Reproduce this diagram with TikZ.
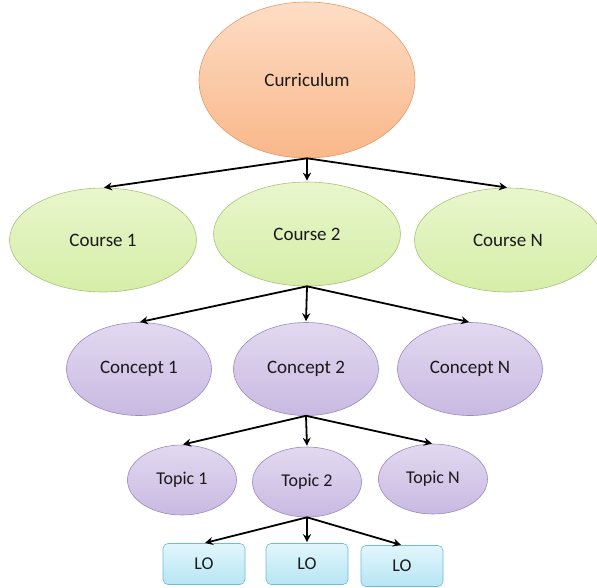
\documentclass[tikz,border=0pt]{standalone}
\usepackage{fontspec}
\setmainfont{Carlito}
\usetikzlibrary{shapes.geometric,arrows.meta}

\definecolor{orTop}{HTML}{FDDDC5}
\definecolor{orBot}{HTML}{F9B789}
\definecolor{orLine}{HTML}{E09A68}
\definecolor{grTop}{HTML}{E9F6CC}
\definecolor{grBot}{HTML}{D5EEA8}
\definecolor{grLine}{HTML}{A9C27A}
\definecolor{puTop}{HTML}{E2D9F0}
\definecolor{puBot}{HTML}{C9B9E2}
\definecolor{puLine}{HTML}{9B8AC0}
\definecolor{blTop}{HTML}{E2F6FC}
\definecolor{blBot}{HTML}{B6E5F4}
\definecolor{blLine}{HTML}{6FBCD4}
\definecolor{txt}{HTML}{1A1A1A}

\tikzset{
  oval/.style={ellipse, inner sep=0pt, line width=0.6pt, text=txt},
  rootnode/.style={oval, draw=orLine, top color=orTop, bottom color=orBot,
    minimum width=216pt, minimum height=156pt, font=\fontsize{19}{22}\selectfont},
  coursenode/.style={oval, draw=grLine, top color=grTop, bottom color=grBot,
    minimum width=187pt, minimum height=104pt, font=\fontsize{19}{22}\selectfont},
  conceptnode/.style={oval, draw=puLine, top color=puTop, bottom color=puBot,
    minimum width=145pt, minimum height=93pt, font=\fontsize{19}{22}\selectfont},
  topicnode/.style={oval, draw=puLine, top color=puTop, bottom color=puBot,
    minimum width=109pt, minimum height=70pt, font=\fontsize{18}{21}\selectfont},
  lonode/.style={rectangle, rounded corners=5pt, draw=blLine, line width=0.6pt,
    top color=blTop, bottom color=blBot, text=txt,
    minimum width=82pt, minimum height=41pt, inner sep=0pt,
    font=\fontsize{18}{21}\selectfont},
  link/.style={-{Stealth[length=8pt,width=8pt]}, line width=1.8pt, black, shorten >=1pt}
}

\begin{document}
\begin{tikzpicture}[x=1pt, y=-1pt]
  \useasboundingbox (0,0) rectangle (597,587);

  % level 0
  \node[rootnode] (cur) at (307,80) {Curriculum};

  % level 1: courses
  \node[coursenode] (c1) at (103,240) {Course 1};
  \node[coursenode] (c2) at (307,234) {Course 2};
  \node[coursenode] (cN) at (508,240) {Course N};

  % level 2: concepts
  \node[conceptnode] (k1) at (139,369) {Concept 1};
  \node[conceptnode] (k2) at (306,369) {Concept 2};
  \node[conceptnode] (kN) at (470,369) {Concept N};

  % level 3: topics
  \node[topicnode] (t1) at (182,480) {Topic 1};
  \node[topicnode] (t2) at (307,482) {Topic 2};
  \node[topicnode] (tN) at (433,479) {Topic N};

  % level 4: learning objects
  \node[lonode] (l1) at (204,564) {LO};
  \node[lonode] (l2) at (307,564) {LO};
  \node[lonode] (l3) at (402,566) {LO};

  % connectors
  \foreach \t in {c1,c2,cN} \draw[link] (cur.south) -- (\t.north);
  \foreach \t in {k1,k2,kN} \draw[link] (c2.south) -- (\t.north);
  \foreach \t in {t1,t2,tN} \draw[link] (k2.south) -- (\t.north);
  \foreach \t in {l1,l2,l3} \draw[link] (t2.south) -- (\t.north);
\end{tikzpicture}
\end{document}
